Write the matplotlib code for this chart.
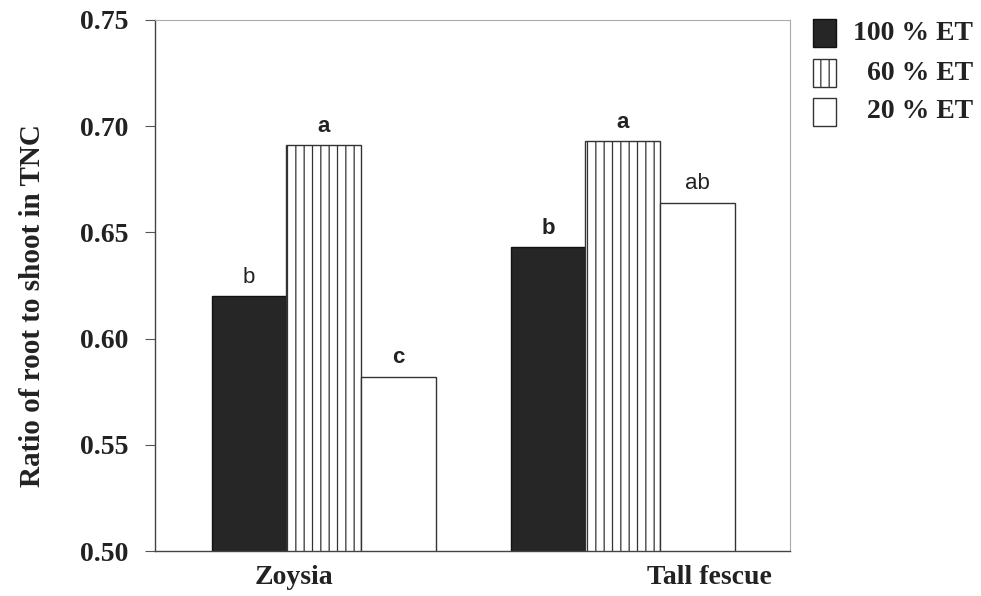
import matplotlib.pyplot as plt
from matplotlib.patches import Rectangle
import numpy as np

# ratio of root to shoot TNC for each grass under three irrigation levels
grasses = ['Zoysia', 'Tall fescue']
treatments = ['100 % ET', '60 % ET', '20 % ET']
ratio_100 = [0.620, 0.643]
ratio_60 = [0.691, 0.693]
ratio_20 = [0.582, 0.664]
letters_100 = ['b', 'b']
letters_60 = ['a', 'a']
letters_20 = ['c', 'ab']
bold_100 = [False, True]
bold_60 = [True, True]
bold_20 = [True, False]
yticks = [0.50, 0.55, 0.60, 0.65, 0.70, 0.75]

serif = ['Liberation Serif', 'DejaVu Serif']
sans = ['Liberation Sans', 'DejaVu Sans']

plt.rcParams['hatch.linewidth'] = 0.9
plt.rcParams['hatch.color'] = '#444444'

fig = plt.figure(figsize=(9.81, 5.96), dpi=100)
ax = fig.add_axes([0.158, 0.0755, 0.647, 0.891])

x = np.arange(len(grasses))
w = 0.25
styles = [
    dict(color='#262626', edgecolor='#111111', hatch=None),
    dict(color='white', edgecolor='#333333', hatch='||'),
    dict(color='white', edgecolor='#333333', hatch=None),
]
series = [ratio_100, ratio_60, ratio_20]
letters = [letters_100, letters_60, letters_20]
bolds = [bold_100, bold_60, bold_20]

for i, (vals, st) in enumerate(zip(series, styles)):
    pos = x + (i - 1) * w
    bars = ax.bar(pos, vals, w, color=st['color'], edgecolor=st['edgecolor'],
                  hatch=st['hatch'], linewidth=1.0, zorder=2)
    for b, v, lab, bd in zip(bars, vals, letters[i], bolds[i]):
        ax.annotate(lab, (b.get_x() + b.get_width() / 2, v),
                    xytext=(0, 6), textcoords='offset points',
                    ha='center', va='bottom', fontsize=16,
                    fontweight='bold' if bd else 'normal', family=sans,
                    color='#222222')

ax.set_ylim(0.50, 0.75)
ax.set_xlim(-0.565, 1.559)
ax.set_yticks(yticks)
ax.set_yticklabels([f'{t:.2f}' for t in yticks], family=serif,
                   fontweight='bold', fontsize=20, color='#222222')
ax.tick_params(axis='y', direction='out', length=7, width=0.8,
               color='#555555', pad=12)

# category names sit off-centre under each group
ax.set_xticks([-0.1, 1.29])
ax.set_xticklabels(grasses, family=serif, fontweight='bold', fontsize=20,
                   color='#222222')
ax.tick_params(axis='x', length=0, pad=10)

ax.set_ylabel('Ratio of root to shoot in TNC', family=serif,
              fontweight='bold', fontsize=21, color='#222222')
ax.yaxis.set_label_coords(-0.172, 0.463)

for side in ['left', 'bottom']:
    ax.spines[side].set_color('#444444')
    ax.spines[side].set_linewidth(1.0)
for side in ['top', 'right']:
    ax.spines[side].set_color('#aaaaaa')
    ax.spines[side].set_linewidth(0.8)
ax.spines['top'].set_linestyle((0, (2, 1)))

# legend drawn by hand with right-aligned labels
box_x, box_w, box_h = 813 / 981, 23 / 981, 27 / 596
centres = [33, 73, 112]
for st, name, cy in zip(styles, treatments, centres):
    yc = 1 - cy / 596
    fig.patches.append(Rectangle((box_x, yc - box_h / 2), box_w, box_h,
                                 transform=fig.transFigure,
                                 facecolor=st['color'],
                                 edgecolor=st['edgecolor'],
                                 hatch=st['hatch'],
                                 linewidth=1.0))
    fig.text(973 / 981, yc, name, ha='right', va='center', family=serif,
             fontweight='bold', fontsize=20, color='#222222')

fig.savefig('out.png', dpi=100)
